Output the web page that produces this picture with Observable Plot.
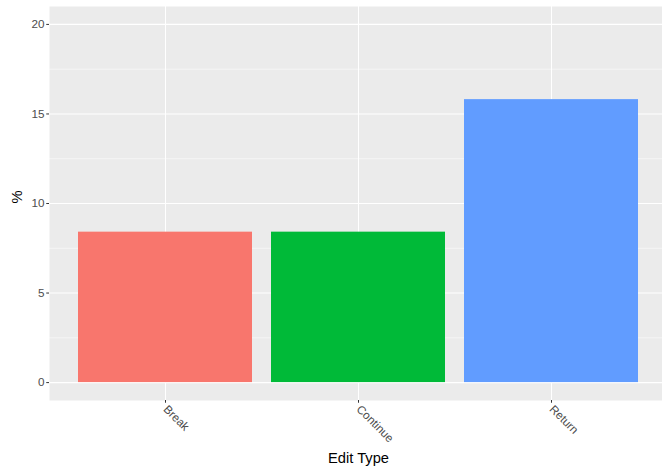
<!DOCTYPE html>
<html>
<head>
<meta charset="utf-8">
<script src="https://cdn.jsdelivr.net/npm/d3@7"></script>
<script src="https://cdn.jsdelivr.net/npm/@observablehq/plot@0.6"></script>
<style>
  html, body { margin: 0; padding: 0; background: white; overflow: hidden; }
  svg { display: block; }
</style>
</head>
<body>
<div id="chart"></div>
<script>
const categories = ["Break", "Continue", "Return"];
const values = [8.4, 8.4, 15.8];
const colors = ["#F8766D", "#00BA38", "#619CFF"];
const yTicks = [0, 5, 10, 15, 20];
const yMinor = [2.5, 7.5, 12.5, 17.5];
const xTitle = "Edit Type";
const yTitle = "%";

const data = categories.map((c, i) => ({type: c, pct: values[i]}));

const chart = Plot.plot({
  width: 662,
  height: 475,
  marginLeft: 49,
  marginRight: -5,
  marginTop: 6,
  marginBottom: 75,
  style: {fontFamily: "'Liberation Sans', Arial, Helvetica, sans-serif", background: "white", overflow: "hidden"},
  x: {domain: categories, paddingInner: 0.1, paddingOuter: 0.15, label: null},
  y: {domain: [-1, 21], label: null},
  color: {domain: categories, range: colors},
  marks: [
    Plot.frame({fill: "#EBEBEB", stroke: null}),
    Plot.gridY(yMinor, {stroke: "white", strokeOpacity: 1, strokeWidth: 0.53}),
    Plot.gridY(yTicks, {stroke: "white", strokeOpacity: 1, strokeWidth: 1.07}),
    Plot.gridX({stroke: "white", strokeOpacity: 1, strokeWidth: 1.07}),
    Plot.barY(data, {x: "type", y: "pct", fill: "type"}),
    Plot.axisY(yTicks, {tickSize: 2.74, tickPadding: 2.2, fontSize: 11.7, fill: "#4D4D4D", stroke: "#333333", label: null}),
    Plot.axisX({tickSize: 2.74, tickPadding: 4, tickRotate: 45, fontSize: 11.7, fill: "#4D4D4D", stroke: "#333333", label: null}),
    Plot.text([yTitle], {text: d => d, frameAnchor: "left", dx: -32, rotate: -90, fontSize: 14.7, fill: "black"}),
    Plot.text([xTitle], {text: d => d, frameAnchor: "bottom", dy: 62, fontSize: 14.7, fill: "black"})
  ]
});
document.getElementById("chart").appendChild(chart);
</script>
</body>
</html>
